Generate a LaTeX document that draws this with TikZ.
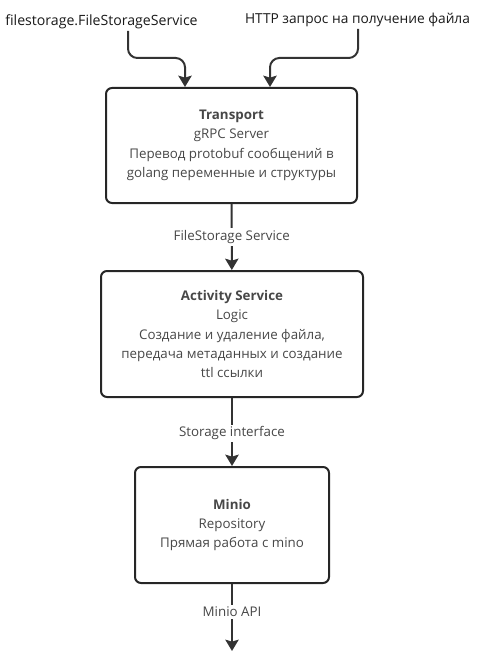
\documentclass[tikz,border=0pt]{standalone}
\usepackage{fontspec}
\setmainfont{Open Sans}
\usetikzlibrary{arrows.meta}
\begin{document}
\begin{tikzpicture}[
	x=0.75pt,y=-0.75pt,
	font=\fontsize{10pt}{14.6pt}\selectfont,
	box/.style={rectangle,draw=black!85,line width=1.5pt,rounded corners=4.5pt,align=center,text=black!72},
	lbl/.style={fill=white,text=black!72,inner sep=1.5pt},
	arr/.style={line width=1.5pt,draw=black!80,-{Stealth[width=10pt,length=8.5pt,inset=1.5pt]}},
	]
\useasboundingbox (0,0) rectangle (500,656);
\node (a) [text=black!90,font=\fontsize{10.6pt}{13pt}\selectfont] at (101.5,22) {filestorage.FileStorageService};
\node (b) [text=black!90,font=\fontsize{10.3pt}{13pt}\selectfont] at (357.5,20) {HTTP запрос на получение файла};
\node (t) [box,minimum width=188.25pt,minimum height=86.25pt] at (231.5,145.5)
  {\textbf{Transport}\\gRPC Server\\Перевод protobuf сообщений в\\golang переменные и структуры};
\node (s) [box,minimum width=196.5pt,minimum height=94.5pt] at (232,334)
  {\textbf{Activity Service}\\Logic\\Создание и удаление файла,\\передача метаданных и создание\\ttl ссылки};
\node (m) [box,minimum width=145.5pt,minimum height=87pt] at (232,525)
  {\textbf{Minio}\\Repository\\Прямая работа с mino};
\coordinate (a1) at (128,31);
\coordinate (a2) at (185,58);
\coordinate (b1) at (358,29);
\coordinate (b2) at (270,58);
\coordinate (e) at (232,651);
\draw[arr,rounded corners=7pt] (a1) |- (a2) -- (a2 |- t.north);
\draw[arr,rounded corners=7pt] (b1) |- (b2) -- (b2 |- t.north);
\draw[arr] (t) -- node[lbl,pos=0.5] {FileStorage Service} (s);
\draw[arr] (s) -- node[lbl,pos=0.52] {Storage interface} (m);
\draw[arr] (m) -- node[lbl,pos=0.42] {Minio API} (e);
\end{tikzpicture}
\end{document}
